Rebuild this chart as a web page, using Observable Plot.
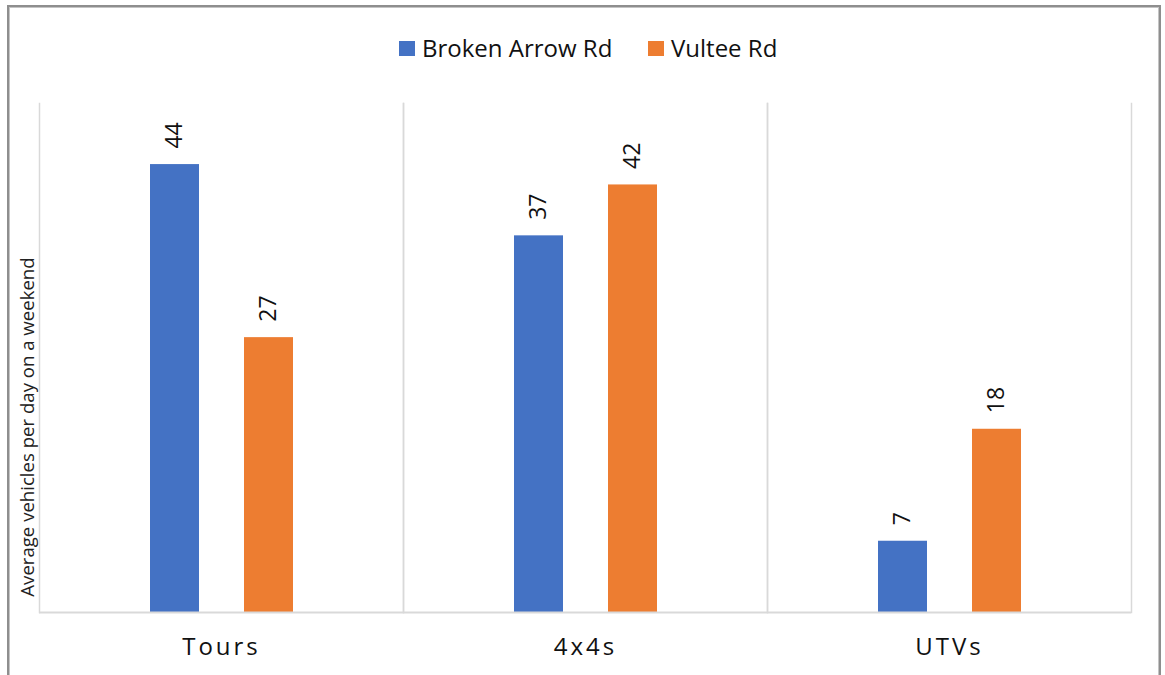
<!DOCTYPE html>
<html>
<head>
<meta charset="utf-8">
<script src="https://cdn.jsdelivr.net/npm/d3@7"></script>
<script src="https://cdn.jsdelivr.net/npm/@observablehq/plot@0.6"></script>
<style>
  html, body { margin: 0; padding: 0; background: #fff; }
  body { width: 1165px; height: 675px; overflow: hidden; position: relative; font-family: "Open Sans", sans-serif; }
  #border { position: absolute; left: 7px; top: 5px; width: 1154px; height: 720px; box-sizing: border-box;
            border: 2px solid #8e8e8e; box-shadow: inset 1px 1px 0 #c4c4c4, inset -1px 0 0 #c4c4c4; }
  #legend { position: relative; height: 80px; }
  .item { position: absolute; top: 27px; height: 40px; display: flex; align-items: center; font-size: 24px; color: #111; }
  .sw { width: 16px; height: 15px; margin-right: 7px; position: relative; top: 1px; }
  #ylabel { position: absolute; left: 27px; top: 427px; transform: translate(-50%, -50%) rotate(-90deg);
            white-space: nowrap; font-size: 18.6px; line-height: 1; color: #222; }
  #chart { position: relative; }
  [aria-label="fx-axis tick label"] text { letter-spacing: 3px; }
</style>
</head>
<body>
<div id="border"></div>
<div id="legend"></div>
<div id="chart"></div>
<div id="ylabel"></div>
<script>
const categories = ["Tours", "4x4s", "UTVs"];
const series = ["Broken Arrow Rd", "Vultee Rd"];
const brokenArrow = [44, 37, 7];
const vultee = [27, 42, 18];
const colors = ["#4472C4", "#ED7D31"];
const yTitle = "Average vehicles per day on a weekend";

const data = [];
categories.forEach((c, i) => {
  data.push({category: c, series: series[0], value: brokenArrow[i]});
  data.push({category: c, series: series[1], value: vultee[i]});
});

// Legend
const legend = document.getElementById("legend");
const legendLeft = [399, 648];
series.forEach((s, i) => {
  const item = document.createElement("div");
  item.className = "item";
  item.style.left = legendLeft[i] + "px";
  const sw = document.createElement("div");
  sw.className = "sw";
  sw.style.background = colors[i];
  const t = document.createElement("span");
  t.textContent = s;
  item.appendChild(sw);
  item.appendChild(t);
  legend.appendChild(item);
});

document.getElementById("ylabel").textContent = yTitle;

const chart = Plot.plot({
  width: 1165,
  height: 595,
  marginTop: 23,
  marginBottom: 63,
  marginLeft: 38,
  marginRight: 34,
  style: {fontFamily: "Open Sans, sans-serif", background: "transparent", overflow: "visible"},
  fx: {domain: categories, padding: 0, label: null},
  x: {domain: series, paddingInner: 0.484, paddingOuter: 1.16, axis: null},
  y: {domain: [0, 50], axis: null},
  color: {domain: series, range: colors},
  marks: [
    Plot.frame({anchor: "left", stroke: "#d9d9d9", strokeWidth: 1.5}),
    Plot.frame({anchor: "right", stroke: "#d9d9d9", strokeWidth: 1.5}),
    Plot.barY(data, {fx: "category", x: "series", y: "value", fill: "series"}),
    Plot.ruleY([0], {stroke: "#d9d9d9", strokeWidth: 2}),
    Plot.text(data, {fx: "category", x: "series", y: "value", text: d => String(d.value),
      rotate: -90, textAnchor: "start", dy: -16, fontSize: 23, fill: "#111"}),
    Plot.axisFx({anchor: "bottom", tickSize: 0, tickPadding: 25, fontSize: 24, label: null, fill: "#111"})
  ]
});
document.getElementById("chart").appendChild(chart);
</script>
</body>
</html>
